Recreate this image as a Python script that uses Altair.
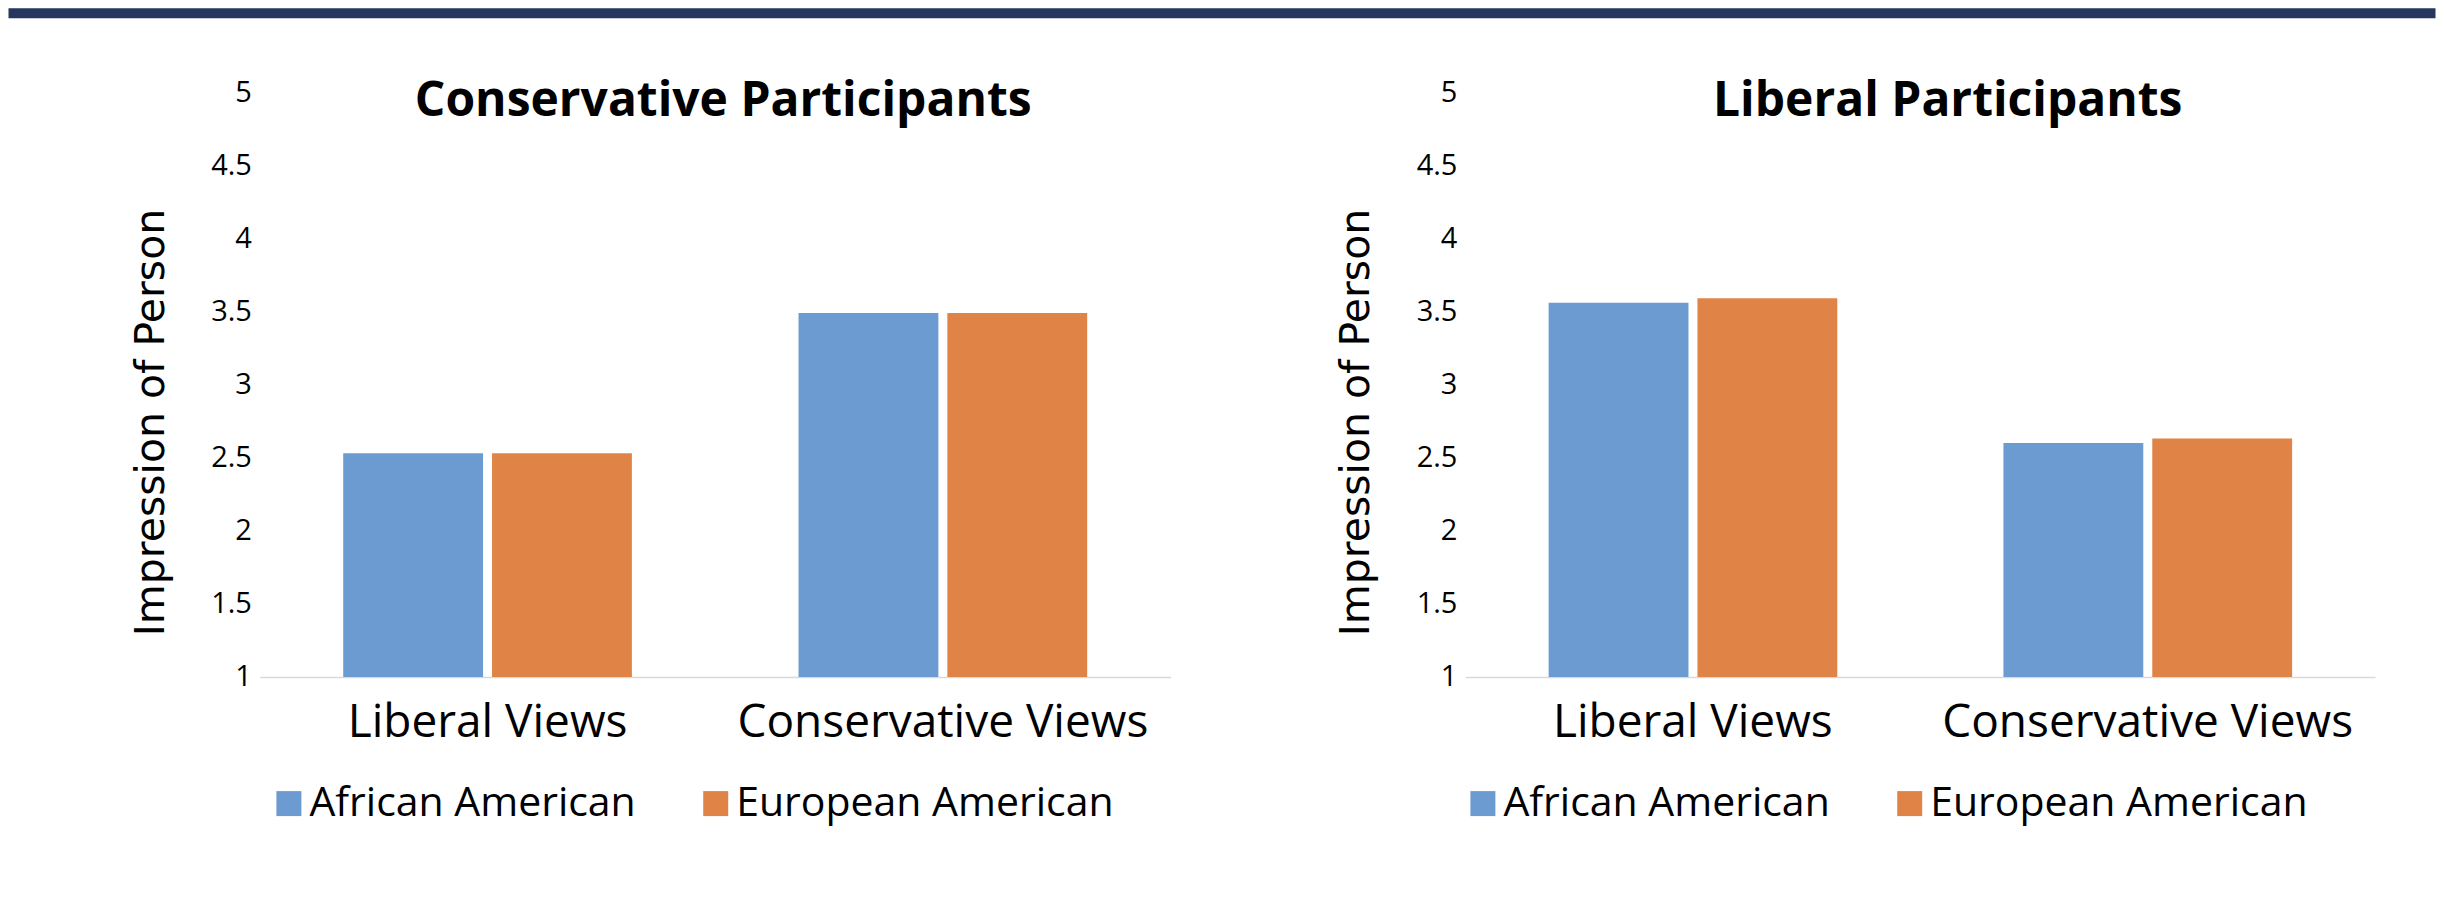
import altair as alt
import pandas as pd

views = ["Liberal Views", "Conservative Views"]
groups = ["African American", "European American"]
colors = ["#6B9BD0", "#DF8446"]

cons_african = [2.53, 3.49]
cons_european = [2.53, 3.49]
lib_african = [3.56, 2.60]
lib_european = [3.59, 2.63]

y_ticks = [1, 1.5, 2, 2.5, 3, 3.5, 4, 4.5, 5]
titles = ["Conservative Participants", "Liberal Participants"]
y_title = "Impression of Person"

FONT = "Open Sans"


def make_df(afr, eur):
    rows = []
    for v, a, e in zip(views, afr, eur):
        rows.append({"view": v, "group": groups[0], "value": a})
        rows.append({"view": v, "group": groups[1], "value": e})
    return pd.DataFrame(rows)


def panel(df, title, width, title_dx, legend_x, band=False):
    bars = alt.Chart(df).mark_bar().encode(
        x=alt.X(
            "view:N", sort=views, title=None,
            scale=alt.Scale(paddingInner=0.366, paddingOuter=0.183),
            axis=alt.Axis(
                labelAngle=0, labelFontSize=46, labelFont=FONT, labelColor="#000000",
                labelBaseline="alphabetic", labelPadding=60, labelLimit=0,
                ticks=False, tickSize=0,
                domainColor="#D9D9D9", domainWidth=1.5, grid=False,
            ),
        ),
        xOffset=alt.XOffset("group:N", sort=groups,
                            scale=alt.Scale(paddingInner=0.0604, paddingOuter=0)),
        y=alt.Y(
            "value:Q",
            scale=alt.Scale(domain=[1, 5], nice=False, zero=False),
            axis=alt.Axis(
                values=y_ticks, format="~g", labelFontSize=29, labelFont=FONT,
                labelColor="#000000", labelPadding=8.5, ticks=False, tickSize=0,
                domain=False, grid=False,
                title=y_title, titleFont="DejaVu Sans", titleFontSize=41,
                titleFontWeight="normal", titleColor="#000000", titleAngle=270,
                titleBaseline="alphabetic", titleAlign="center",
                titleX=-96.5, titleY=330,
            ),
        ),
        y2=alt.datum(1),
        color=alt.Color(
            "group:N",
            scale=alt.Scale(domain=groups, range=colors),
            legend=alt.Legend(
                orient="none", legendX=legend_x, legendY=691, direction="horizontal",
                title=None, symbolType="square", symbolSize=625, symbolStrokeWidth=0,
                labelFontSize=41, labelFont=FONT, labelColor="#000000", labelLimit=0,
                labelOffset=0, columnPadding=59, padding=0,
            ),
        ),
    )
    title_df = pd.DataFrame({"t": [title]})
    title_mark = alt.Chart(title_df).mark_text(
        font=FONT, fontSize=48, fontWeight="bold", color="#000000",
        align="center", baseline="alphabetic",
    ).encode(
        text="t:N",
        x=alt.value(width / 2 + title_dx),
        y=alt.value(24),
    )
    layers = [bars, title_mark]
    if band:
        band_df = pd.DataFrame({"k": [0]})
        layers.append(
            alt.Chart(band_df).mark_rect(color="#26365F").encode(
                x=alt.value(-251.5), x2=alt.value(2176.5),
                y=alt.value(-84), y2=alt.value(-74),
            )
        )
    return alt.layer(*layers).properties(width=width, height=585)


left = panel(make_df(cons_african, cons_european), titles[0], 911, 8, 8.5, band=True)
right = panel(make_df(lib_african, lib_european), titles[1], 910, 27.5, -3)

chart = alt.hconcat(left, right, spacing=295, bounds="flush").resolve_scale(
    color="independent", x="independent", y="independent"
).resolve_legend(color="independent").configure_view(stroke=None).properties(
    padding={"left": 0, "top": 0, "right": 0, "bottom": 10}
)

chart.save("out.html", embed_options={"renderer": "svg", "actions": False})
